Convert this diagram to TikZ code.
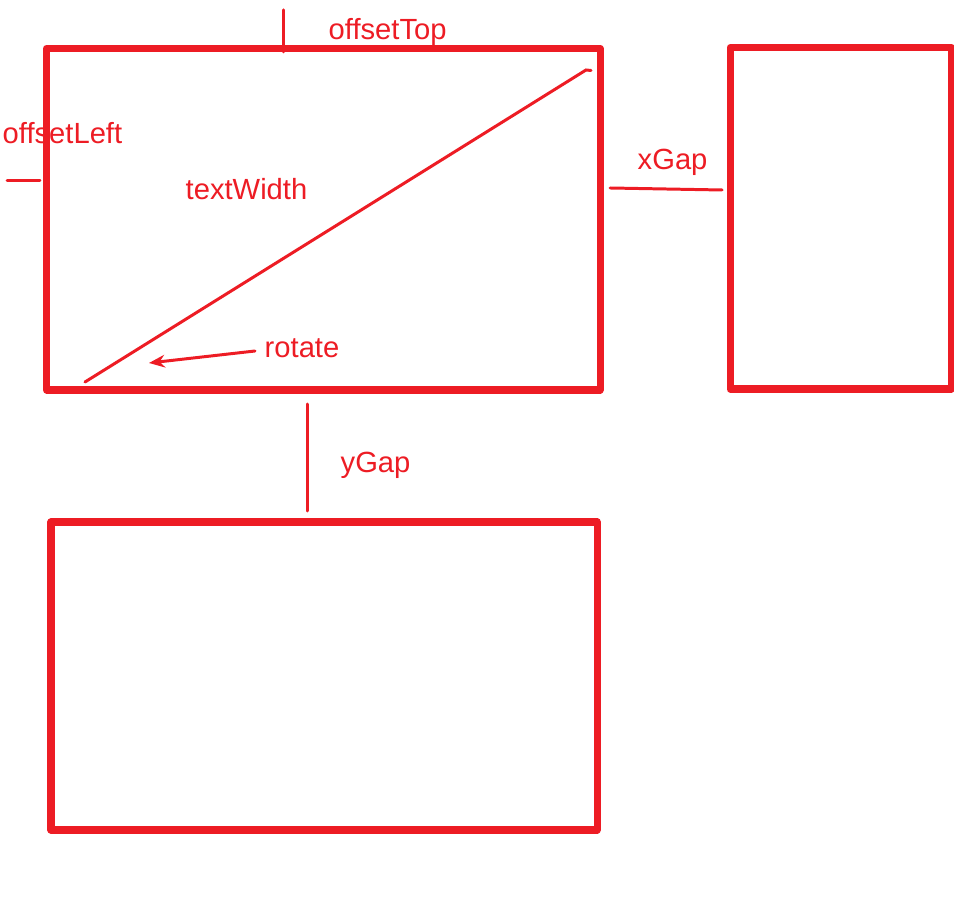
\documentclass[tikz,border=0pt]{standalone}
\usepackage{fontspec}
\setmainfont{Liberation Sans}
\usetikzlibrary{arrows.meta}
\definecolor{penred}{RGB}{237,28,36}

\begin{document}
\begin{tikzpicture}[
    frame/.style={penred, line width=2pt, line join=round},
    mark line/.style={penred, line width=0.85pt, line cap=round},
    lbl/.style={penred, anchor=base west, inner sep=0pt, font=\fontsize{8.3}{10}\selectfont}
]
            \useasboundingbox (0,0) rectangle (9.54,8.98);
            \draw[frame] (0.465,8.495) rectangle (6.00,5.08);
            \draw[frame] (7.30,8.505) rectangle (9.51,5.09);
            \draw[frame] (0.51,3.76) rectangle (5.97,0.68);
            \coordinate (topA) at (2.83,8.88);
            \coordinate (topB) at (2.83,8.46);
            \coordinate (leftA) at (0.07,7.17);
            \coordinate (leftB) at (0.40,7.17);
            \coordinate (diagA) at (0.85,5.16);
            \coordinate (diagB) at (5.86,8.28);
            \coordinate (diagC) at (5.91,8.275);
            \coordinate (rotA) at (2.55,5.47);
            \coordinate (rotB) at (1.49,5.35);
            \coordinate (xgapA) at (6.10,7.10);
            \coordinate (xgapB) at (7.22,7.08);
            \coordinate (ygapA) at (3.07,4.94);
            \coordinate (ygapB) at (3.07,3.87);
            \draw[mark line] (topA) -- (topB);
            \node[lbl] (offtop) at (3.28,8.58) {offsetTop};
            \draw[mark line] (leftA) -- (leftB);
            \node[lbl] (offleft) at (0.02,7.54) {offsetLeft};
            \node[lbl] (twidth) at (1.85,6.98) {textWidth};
            \draw[mark line] (diagA) -- (diagB) -- (diagC);
            \draw[mark line, -{Stealth[length=4.5pt,width=3.6pt]}] (rotA) -- (rotB);
            \node[lbl] (rot) at (2.64,5.40) {rotate};
            \draw[mark line] (xgapA) -- (xgapB);
            \node[lbl] (xgap) at (6.37,7.28) {xGap};
            \draw[mark line] (ygapA) -- (ygapB);
            \node[lbl] (ygap) at (3.40,4.25) {yGap};
        \end{tikzpicture}
\end{document}
